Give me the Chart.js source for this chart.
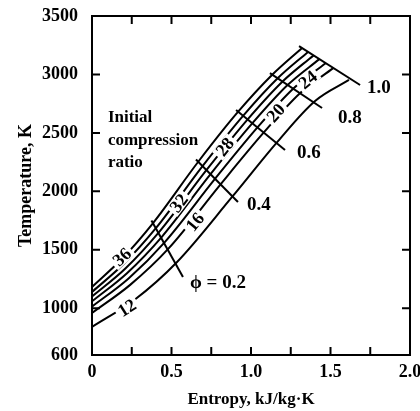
<!DOCTYPE html>
<html>
<head>
<meta charset="utf-8">
<script src="https://cdn.jsdelivr.net/npm/chart.js@4.4.0/dist/chart.umd.min.js"></script>
<style>
html,body{margin:0;padding:0;background:#fff;}
canvas{display:block;}
</style>
</head>
<body>
<canvas id="grafico" width="420" height="411"></canvas>
<script>
// Relaciones de compresion (de arriba a abajo)
const razones=[36,32,28,24,20,16,12];

// Curvas: entropia (kJ/kg.K) y temperatura (K), puntos en phi = 0, ~0.1, 0.2, 0.4, 0.6, 0.8, 1.0
const entropia36=[0,0.19,0.384,0.667,0.918,1.132,1.321];
const temp36=[1182,1425,1729,2251,2679,2995,3226];
const entropia32=[0,0.20,0.403,0.694,0.950,1.166,1.358];
const temp32=[1139,1380,1687,2213,2645,2965,3193];
const entropia28=[0,0.21,0.420,0.718,0.979,1.197,1.393];
const temp28=[1100,1340,1649,2179,2616,2938,3163];
const entropia24=[0,0.22,0.438,0.743,1.009,1.230,1.430];
const temp24=[1059,1300,1609,2143,2583,2909,3131];
const entropia20=[0,0.23,0.458,0.772,1.042,1.265,1.469];
const temp20=[1014,1255,1566,2104,2549,2878,3096];
const entropia16=[0,0.24,0.482,0.806,1.082,1.308,1.517];
const temp16=[959,1200,1512,2056,2506,2840,3054];
const entropia12=[0,0.27,0.535,0.881,1.170,1.403,1.616];
const temp12=[840,1075,1396,1952,2430,2773,2953];

// Lineas de phi constante (extremo superior, extremo inferior)
const phiTextos=["\u03d5 = 0.2","0.4","0.6","0.8","1.0"];
const phiEntropia=[[0.374,0.572],[0.654,0.918],[0.906,1.214],[1.119,1.447],[1.302,1.686]];
const phiTemp=[[1751,1267],[2273,1909],[2696,2354],[3012,2713],[3243,2910]];
const phiEtiqS=[0.616,0.975,1.289,1.547,1.730];
const phiEtiqT=[1216,1883,2328,2628,2884];

// Etiquetas sobre las curvas (mismo orden que razones)
const etiqCurvaS=[0.189,0.547,0.836,1.358,1.157,0.648,0.220];
const etiqCurvaT=[1438,1900,2379,2953,2670,1738,1002];

// Nota
const notaLineas=["Initial","compression","ratio"];
const notaS=0.10, notaT=2628;

// Ejes
const xTicks=[0,0.25,0.5,0.75,1,1.25,1.5,1.75,2];
const xTickTextos=["0","","0.5","","1.0","","1.5","","2.0"];
const yTicks=[600,1000,1500,2000,2500,3000,3500];

const entropias=[entropia36,entropia32,entropia28,entropia24,entropia20,entropia16,entropia12];
const temps=[temp36,temp32,temp28,temp24,temp20,temp16,temp12];

const fuente="'Liberation Serif','DejaVu Serif',serif";

const datasets=[];
razones.forEach((r,i)=>{
  datasets.push({
    label:"r="+r,
    data:entropias[i].map((s,k)=>({x:s,y:temps[i][k]})),
    showLine:true,borderColor:"#000",borderWidth:2,pointRadius:0,
    cubicInterpolationMode:"monotone"
  });
});
phiTextos.forEach((t,i)=>{
  datasets.push({
    label:"phi "+t,
    data:phiEntropia[i].map((s,k)=>({x:s,y:phiTemp[i][k]})),
    showLine:true,borderColor:"#000",borderWidth:2,pointRadius:0,tension:0
  });
});

// Marcas, marco y textos
const dibujos={
  id:"dibujos",
  afterDatasetsDraw(chart){
    const {ctx,chartArea:a,scales:{x,y}}=chart;
    ctx.save();
    ctx.strokeStyle="#000";ctx.lineWidth=2;
    ctx.strokeRect(a.left,a.top,a.right-a.left,a.bottom-a.top);
    ctx.beginPath();
    xTicks.forEach(v=>{
      if(v<=x.min||v>=x.max) return;
      const px=x.getPixelForValue(v);
      ctx.moveTo(px,a.bottom);ctx.lineTo(px,a.bottom-8);
      ctx.moveTo(px,a.top);ctx.lineTo(px,a.top+8);
    });
    yTicks.forEach(v=>{
      if(v<=y.min||v>=y.max) return;
      const py=y.getPixelForValue(v);
      ctx.moveTo(a.left,py);ctx.lineTo(a.left+8,py);
      ctx.moveTo(a.right,py);ctx.lineTo(a.right-8,py);
    });
    ctx.stroke();

    // numeros sobre las curvas
    ctx.font="bold 18px "+fuente;
    ctx.textAlign="center";ctx.textBaseline="middle";
    razones.forEach((r,i)=>{
      const px=x.getPixelForValue(etiqCurvaS[i]),py=y.getPixelForValue(etiqCurvaT[i]);
      const pts=chart.getDatasetMeta(i).data;
      let k=1;while(k<pts.length-1&&pts[k].x<px) k++;
      const ang=Math.atan2(pts[k].y-pts[k-1].y,pts[k].x-pts[k-1].x);
      const txt=String(r),w=ctx.measureText(txt).width;
      ctx.save();ctx.translate(px,py);ctx.rotate(ang);
      ctx.fillStyle="#fff";ctx.fillRect(-w/2-3,-7,w+6,14);
      ctx.fillStyle="#000";ctx.fillText(txt,0,1);
      ctx.restore();
    });

    // etiquetas de phi
    ctx.font="bold 19px "+fuente;
    ctx.textAlign="left";ctx.fillStyle="#000";
    phiTextos.forEach((t,i)=>{
      ctx.fillText(t,x.getPixelForValue(phiEtiqS[i]),y.getPixelForValue(phiEtiqT[i]));
    });

    // nota
    ctx.font="bold 17px "+fuente;
    const nx=x.getPixelForValue(notaS),ny=y.getPixelForValue(notaT);
    notaLineas.forEach((l,i)=>ctx.fillText(l,nx,ny+i*22.5));
    ctx.restore();
  }
};

new Chart(document.getElementById("grafico"),{
  type:"scatter",
  data:{datasets},
  options:{
    responsive:false,animation:false,devicePixelRatio:1,
    layout:{padding:{top:16,right:10,left:0,bottom:0}},
    plugins:{legend:{display:false},tooltip:{enabled:false}},
    scales:{
      x:{
        type:"linear",min:0,max:2,
        grid:{display:false,drawTicks:false},border:{display:false},
        afterBuildTicks:s=>{s.ticks=xTicks.map(v=>({value:v}));},
        afterFit:s=>{s.height=56;s.paddingLeft=0;s.paddingRight=0;},
        ticks:{autoSkip:false,maxRotation:0,padding:7,color:"#000",
          font:{family:fuente,size:18,weight:"bold"},
          callback:(v,i)=>xTickTextos[i]},
        title:{display:true,text:"Entropy, kJ/kg\u00b7K",color:"#000",
          font:{family:fuente,size:17,weight:"bold"},padding:{top:0,bottom:1}}
      },
      y:{
        type:"linear",min:600,max:3500,
        grid:{display:false,drawTicks:false},border:{display:false},
        afterBuildTicks:s=>{s.ticks=yTicks.map(v=>({value:v}));},
        afterFit:s=>{s.width=92;s.paddingTop=0;s.paddingBottom=0;},
        ticks:{autoSkip:false,padding:14,color:"#000",
          font:{family:fuente,size:18,weight:"bold"},
          callback:(v,i)=>String(yTicks[i])},
        title:{display:true,text:"Temperature, K",color:"#000",
          font:{family:fuente,size:18,weight:"bold"},padding:{top:16,bottom:0}}
      }
    }
  },
  plugins:[dibujos]
});
</script>
</body>
</html>
